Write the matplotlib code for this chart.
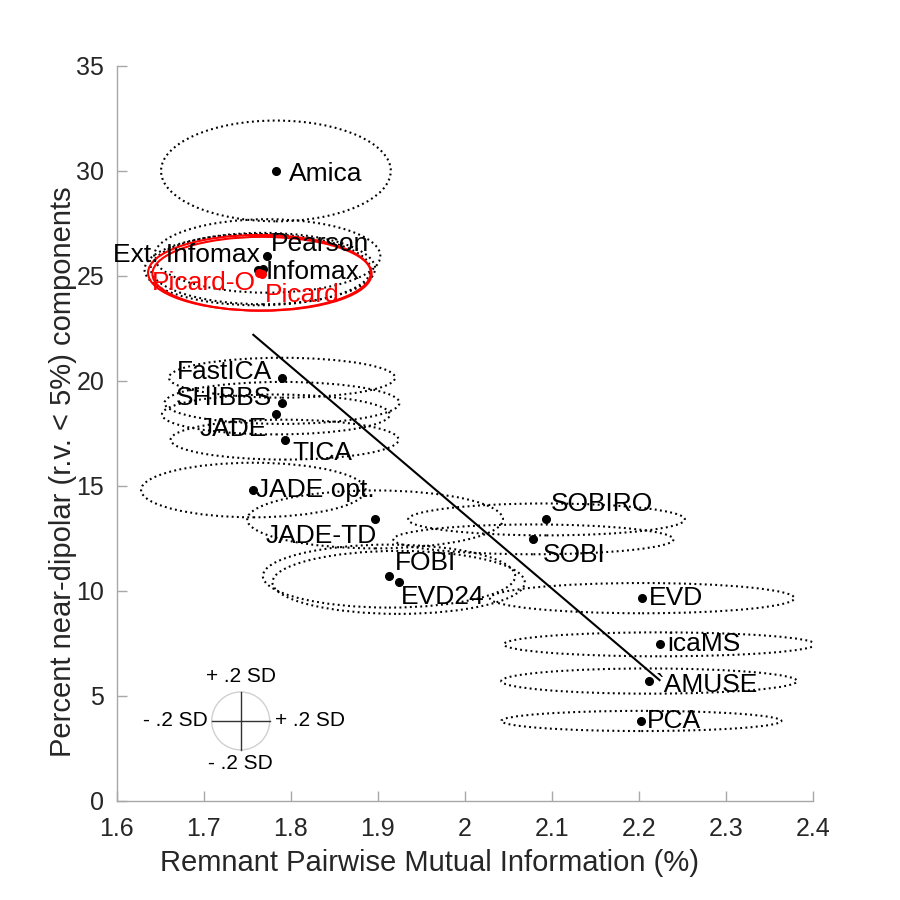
import numpy as np
import matplotlib
matplotlib.use("Agg")
import matplotlib.pyplot as plt
from matplotlib.patches import Ellipse

plt.rcParams['font.family'] = ['Liberation Sans', 'DejaVu Sans']

# ---------------- data ----------------
names = ["Amica", "Pearson", "Ext. Infomax", "Infomax", "Picard", "Picard-O",
         "FastICA", "SHIBBS", "JADE", "TICA", "JADE opt.", "JADE-TD",
         "FOBI", "EVD24", "SOBIRO", "SOBI", "EVD", "icaMS", "`AMUSE", "PCA"]
mi = [1.783, 1.773, 1.762, 1.768, 1.767, 1.764,
      1.790, 1.790, 1.783, 1.793, 1.757, 1.897,
      1.913, 1.924, 2.094, 2.079, 2.204, 2.224, 2.212, 2.203]
dipolar = [30.0, 25.95, 25.3, 25.35, 25.1, 25.15,
           20.15, 18.95, 18.4, 17.2, 14.8, 13.4,
           10.7, 10.4, 13.4, 12.45, 9.65, 7.45, 5.7, 3.8]
# 0.2 SD half-axes of the ellipses
sd_mi = [0.132, 0.130, 0.130, 0.129, 0.126, 0.128,
         0.130, 0.135, 0.131, 0.131, 0.129, 0.147,
         0.145, 0.145, 0.159, 0.161, 0.175, 0.179, 0.170, 0.161]
sd_dip = [2.4, 1.75, 1.7, 1.7, 1.76, 1.8,
          0.95, 1.0, 0.95, 0.95, 1.3, 1.38,
          1.5, 1.5, 0.76, 0.71, 0.72, 0.57, 0.6, 0.48]
highlight = ["Picard", "Picard-O"]

xticks = [1.6, 1.7, 1.8, 1.9, 2.0, 2.1, 2.2, 2.3, 2.4]
xticklabels = ["1.6", "1.7", "1.8", "1.9", "2", "2.1", "2.2", "2.3", "2.4"]
yticks = [0, 5, 10, 15, 20, 25, 30, 35]

# label placement (pixel offsets, ha) -- layout only
place = {
    "Amica": (13, -3, 'left'),
    "Pearson": (4, 12, 'left'),
    "Ext. Infomax": (2, 15, 'right'),
    "Infomax": (3, -3, 'left'),
    "Picard": (3, -21, 'left'),
    "Picard-O": (-4, -10, 'right'),
    "FastICA": (-10, 6, 'right'),
    "SHIBBS": (-10, 5, 'right'),
    "JADE": (-9, -15, 'right'),
    "TICA": (8, -13, 'left'),
    "JADE opt.": (3, 0, 'left'),
    "JADE-TD": (2, -17, 'right'),
    "FOBI": (6, 13, 'left'),
    "EVD24": (2, -15, 'left'),
    "SOBIRO": (4, 15, 'left'),
    "SOBI": (9, -16, 'left'),
    "EVD": (7, 0, 'left'),
    "icaMS": (8, 0, 'left'),
    "`AMUSE": (6, -4, 'left'),
    "PCA": (6, 0, 'left'),
}

# ---------------- figure ----------------
fig = plt.figure(figsize=(9, 9), dpi=100)
ax = fig.add_axes([0.1297, 0.1103, 0.7733, 0.8164])
ax.set_xlim(1.6, 2.4)
ax.set_ylim(0, 35)

axcol = '#a8a8a8'
txtcol = '#262626'
for s in ['top', 'right']:
    ax.spines[s].set_visible(False)
for s in ['left', 'bottom']:
    ax.spines[s].set_color(axcol)
    ax.spines[s].set_linewidth(1.0)
ax.tick_params(direction='in', length=7, width=1.0, color=axcol,
               labelsize=18, labelcolor=txtcol)
ax.tick_params(axis='x', pad=12)
ax.tick_params(axis='y', pad=9)
ax.set_xticks(xticks)
ax.set_xticklabels(xticklabels)
ax.set_yticks(yticks)

ax.set_xlabel("Remnant Pairwise Mutual Information (%)", fontsize=21,
              color=txtcol, labelpad=6)
ax.xaxis.set_label_coords(0.449, -0.066)
ax.set_ylabel("Percent near-dipolar (r.v. < 5%) components", fontsize=21,
              color=txtcol)
ax.yaxis.set_label_coords(-0.057, 0.448)

# ellipses
for n, x, y, w, h in zip(names, mi, dipolar, sd_mi, sd_dip):
    if n in highlight:
        e = Ellipse((x, y), 2 * w, 2 * h, fill=False, ec='red', lw=1.5, ls='-')
    else:
        e = Ellipse((x, y), 2 * w, 2 * h, fill=False, ec='black', lw=1.5,
                    ls=(0, (0.9, 1.6)))
    ax.add_patch(e)

# regression line
xa = np.array(mi)
ya = np.array(dipolar)
coef = np.polyfit(xa, ya, 1)
xl = np.array([xa.min(), xa.max()])
ax.plot(xl, np.polyval(coef, xl), color='black', lw=1.5)

# points and labels
for n, x, y in zip(names, mi, dipolar):
    c = 'red' if n in highlight else 'black'
    ax.plot([x], [y], 'o', color=c, ms=5.5, zorder=5)
    dx, dy, ha = place[n]
    ax.annotate(n, (x, y), xytext=(dx * 0.72, dy * 0.72),
                textcoords='offset points', ha=ha, va='center',
                fontsize=19, color=c, zorder=6)

# SD reference cross
cx, cy = 1.7425, 3.8
rx, ry = 0.0333, 1.38
ax.add_patch(Ellipse((cx, cy), 2 * rx, 2 * ry, fill=False, ec='#d0d0d0', lw=1.0))
ax.plot([cx - rx, cx + rx], [cy, cy], color='#333333', lw=1.0)
ax.plot([cx, cx], [cy - ry, cy + ry], color='#333333', lw=1.0)
kw = dict(fontsize=15, color='black', textcoords='offset points')
ax.annotate("+ .2 SD", (cx, cy + ry), xytext=(0, 4), ha='center', va='bottom', **kw)
ax.annotate("- .2 SD", (cx, cy - ry), xytext=(0, -3), ha='center', va='top', **kw)
ax.annotate("- .2 SD", (cx - rx, cy), xytext=(-3, 0), ha='right', va='center', **kw)
ax.annotate("+ .2 SD", (cx + rx, cy), xytext=(4, 0), ha='left', va='center', **kw)

fig.savefig("out.png", dpi=100)
